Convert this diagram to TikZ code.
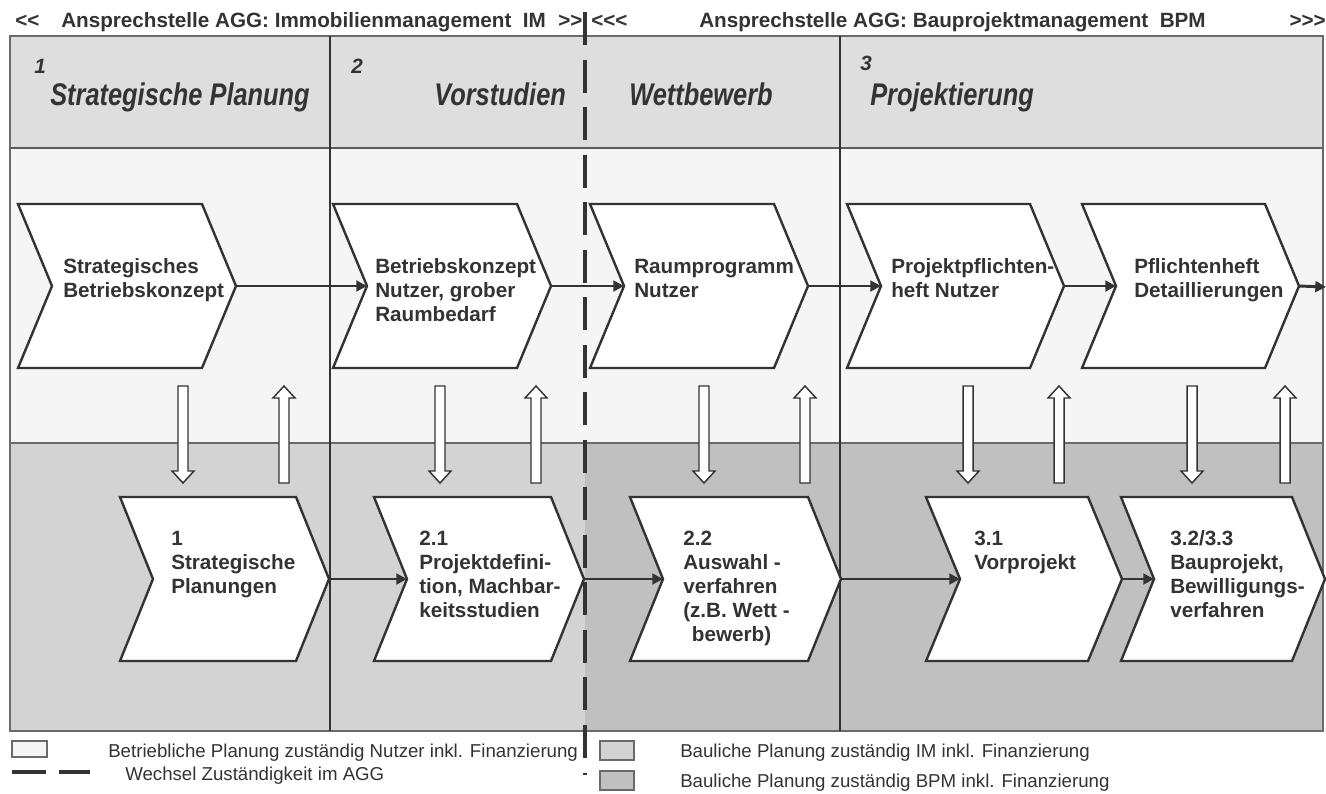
\documentclass[tikz,border=0pt]{standalone}
\usepackage{fontspec}
\setmainfont{Liberation Sans}
\usepackage{graphicx}
\usetikzlibrary{arrows.meta}
\definecolor{hdr}{HTML}{DEDEDE}
\definecolor{upperband}{HTML}{F5F5F5}
\definecolor{lowL}{HTML}{D3D3D3}
\definecolor{lowR}{HTML}{C0C0C0}
\definecolor{ink}{HTML}{333333}
\definecolor{framegray}{HTML}{6A6A6A}
\newcommand\mychev[5]{% name, left x, top y, top width, tip offset
  \draw[chev] (#2,#3) -- ++(#4,0) -- ++(#5,82) -- ++(-#5,82) -- ++(-#4,0) -- ++(#5,-82) -- cycle;
  \path (#2,#3) ++(#5,82) coordinate (#1-in);
  \path (#2,#3) ++(#4,0) ++(#5,82) coordinate (#1-tip);}
\newcommand\capstrut{\rule{0pt}{11.1pt}}
\begin{document}
\begin{tikzpicture}[x=0.75pt,y=-0.75pt,
  chev/.style={draw=ink, line width=1.8pt, fill=white, line join=miter},
  flow/.style={draw=ink, line width=2.2pt, -{Triangle[length=8pt,width=8pt]}},
  hollow/.style={draw=ink, line width=1.1pt, fill=white},
  ctext/.style={anchor=north west, inner sep=0pt, align=left, text=ink, font=\fontsize{15.5}{18}\selectfont\bfseries},
  toptext/.style={anchor=base west, inner sep=0pt, text=ink, font=\fontsize{15.5}{18}\selectfont\bfseries},
  titletext/.style={anchor=base west, inner sep=0pt, text=ink, font=\fontsize{23.5}{26}\selectfont\bfseries\itshape},
  numtext/.style={anchor=base west, inner sep=0pt, text=ink, font=\fontsize{15.5}{18}\selectfont\bfseries\itshape},
  legtext/.style={anchor=base west, inner sep=0pt, text=ink, font=\fontsize{14}{16}\selectfont},
  legbox/.style={draw=framegray, line width=0.9pt},
  chg/.style={draw=ink, line width=3pt, dash pattern=on 24.75pt off 10.9pt},
  colline/.style={draw=ink, line width=0.8pt},
  downarr/.pic={\draw[hollow] (-5,0) -- (-5,85) -- (-11,85) -- (0,97) -- (11,85) -- (5,85) -- (5,0) -- cycle;},
  uparr/.pic={\draw[hollow] (-5,97) -- (-5,12) -- (-11,12) -- (0,0) -- (11,12) -- (5,12) -- (5,97) -- cycle;}
]
\useasboundingbox (0,0) rectangle (1326,793);
\fill[white] (0,0) rectangle (1326,793);
% bands
\fill[hdr] (10,36) rectangle (1323,148);
\fill[upperband] (10,148) rectangle (1323,443);
\fill[lowL] (10,443) rectangle (585,731);
\fill[lowR] (585,443) rectangle (1323,731);
\draw[framegray, line width=1.3pt] (10,36) rectangle (1323,731);
\draw[ink!80, line width=1.3pt] (10,148) -- (1323,148);
\draw[framegray, line width=1.1pt] (10,443) -- (1323,443);
\draw[colline] (330,36) -- (330,731);
\draw[colline] (840,36) -- (840,731);

% header line
\node[toptext] (hl1) at (15,27) {<{}<};
\node[toptext] (hl2) at (61,27) {Ansprechstelle AGG: Immobilienmanagement\ \ IM};
\node[toptext] (hl3) at (558,27) {>{}>};
\node[toptext] (hl4) at (591,27) {<{}<{}<};
\node[toptext] (hr1) at (699,27) {Ansprechstelle AGG: Bauprojektmanagement\ \ BPM};
\node[toptext, anchor=base east] (hr2) at (1326,27) {>{}>{}>};

% phase titles
\node[numtext] (n1) at (34,73) {1};
\node[titletext] (p1) at (50,105) {\scalebox{0.81}[1]{Strategische Planung}};
\node[numtext] (n2) at (351,73) {2};
\node[titletext] (p2) at (434,105) {\scalebox{0.81}[1]{Vorstudien}};
\node[titletext] (p3) at (629,105) {\scalebox{0.81}[1]{Wettbewerb}};
\node[numtext] (n3) at (860,70) {3};
\node[titletext] (p4) at (870,105) {\scalebox{0.81}[1]{Projektierung}};

% upper chevrons
\mychev{u1}{18}{204}{184}{34}
\mychev{u2}{333}{204}{184}{34}
\mychev{u3}{590}{204}{184}{34}
\mychev{u4}{847}{204}{183}{34}
\mychev{u5}{1082}{204}{183}{34}
\node[ctext] (tu1) at (63,258) {\capstrut Strategisches\\Betriebskonzept};
\node[ctext] (tu2) at (375,258) {\capstrut Betriebskonzept\\Nutzer, grober\\Raumbedarf};
\node[ctext] (tu3) at (634,258) {\capstrut Raumprogramm\\Nutzer};
\node[ctext] (tu4) at (891,258) {\capstrut Projektpflichten-\\heft Nutzer};
\node[ctext] (tu5) at (1134,258) {\capstrut Pflichtenheft\\Detaillierungen};

% lower chevrons
\mychev{l1}{120}{497}{176}{33}
\mychev{l2}{374}{497}{177}{33}
\mychev{l3}{630}{497}{178}{33}
\mychev{l4}{926}{497}{162}{34}
\mychev{l5}{1121}{497}{171}{33}
\node[ctext] (tl1) at (171,530) {\capstrut 1\\Strategische\\Planungen};
\node[ctext] (tl2) at (419,530) {\capstrut 2.1\\Projektdefini-\\tion, Machbar-\\keitsstudien};
\node[ctext] (tl3) at (683,530) {\capstrut 2.2\\Auswahl -\\verfahren\\(z.B. Wett -\\\hspace*{6.5pt}bewerb)};
\node[ctext] (tl4) at (974,530) {\capstrut 3.1\\Vorprojekt};
\node[ctext] (tl5) at (1170,530) {\capstrut 3.2/3.3\\Bauprojekt,\\Bewilligungs-\\verfahren};

% flow connectors
\coordinate (uend) at (1326,287);
\draw[flow] (u1-tip) -- (u2-in);
\draw[flow] (u2-tip) -- (u3-in);
\draw[flow] (u3-tip) -- (u4-in);
\draw[flow] (u4-tip) -- (u5-in);
\draw[flow] (u5-tip) -- (uend);
\draw[flow] (l1-tip) -- (l2-in);
\draw[flow] (l2-tip) -- (l3-in);
\draw[flow] (l3-tip) -- (l4-in);
\draw[flow] (l4-tip) -- (l5-in);

% hollow vertical arrows
\foreach \xd/\xu in {183/284, 440/536, 704/805, 968/1059, 1192/1285}{
  \pic at (\xd,386) {downarr};
  \pic at (\xu,386) {uparr};
}

% change of responsibility
\draw[chg] (585,12) -- (585,775);

% legend
\draw[legbox, fill=upperband] (12,741) rectangle (47,757);
\node[legtext] (lg1) at (108,757) {Betriebliche Planung zuständig Nutzer inkl. Finanzierung};
\draw[draw=ink, line width=3pt, dash pattern=on 25.5pt off 9.75pt] (12,772) -- (90,772);
\node[legtext] (lg2) at (125,780) {Wechsel Zuständigkeit im AGG};
\draw[legbox, fill=lowL] (600,741) rectangle (634,760);
\node[legtext] (lg3) at (680,757) {Bauliche Planung zuständig IM inkl. Finanzierung};
\draw[legbox, fill=lowR] (600,771) rectangle (634,790);
\node[legtext] (lg4) at (680,787) {Bauliche Planung zuständig BPM inkl. Finanzierung};
\end{tikzpicture}
\end{document}
